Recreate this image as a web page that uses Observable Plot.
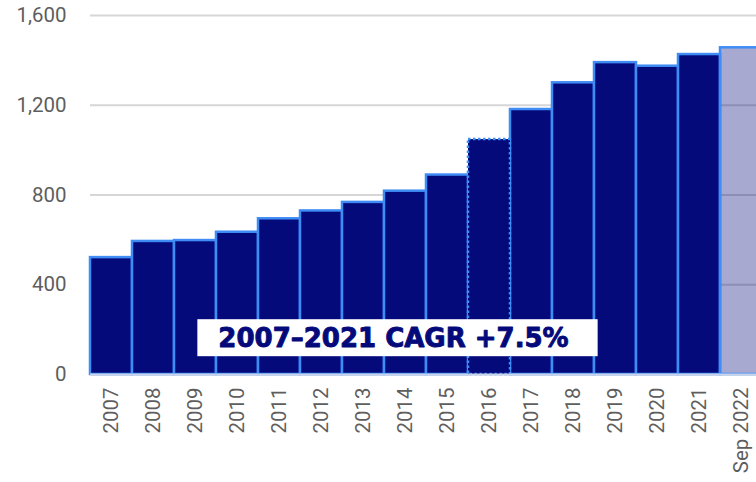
<!DOCTYPE html>
<html><head><meta charset="utf-8">
<script src="https://cdn.jsdelivr.net/npm/d3@7"></script>
<script src="https://cdn.jsdelivr.net/npm/@observablehq/plot@0.6"></script>
<style>html,body{margin:0;padding:0;background:#fff;overflow:hidden;}</style>
</head><body><div id="chart"></div>
<script>
const years = ["2007","2008","2009","2010","2011","2012","2013","2014","2015","2016","2017","2018","2019","2020","2021","Sep 2022"];
const values = [521, 593, 597, 634, 694, 729, 767, 817, 889, 1047, 1181, 1300, 1390, 1374, 1426, 1456];
const barStyle = ["solid","solid","solid","solid","solid","solid","solid","solid","solid","dotted","solid","solid","solid","solid","solid","partial"];
const yTicks = [0, 400, 800, 1200, 1600];
const annotation = {x: "2014", y: 161, label: "2007–2021 CAGR +7.5%"};

const data = years.map((year, i) => ({year, value: values[i], style: barStyle[i]}));
const navy = "#050a7b";
const edge = "#3f8cf5";

const plot = Plot.plot({
  width: 756, height: 482,
  marginTop: 15, marginBottom: 108, marginLeft: 90, marginRight: 0,
  style: {fontFamily: "Roboto", fontSize: "20px", color: "#5e5e5e", background: "white", overflow: "hidden"},
  x: {domain: years, range: [90, 762], padding: 0, label: null},
  y: {domain: [0, 1600], label: null},
  marks: [
    Plot.gridY(yTicks, {stroke: "#d6d6d6", strokeOpacity: 1, strokeWidth: 2}),
    Plot.barY(data.filter(d => d.style === "solid"), {x: "year", y: "value", fill: navy, stroke: edge, strokeWidth: 2.5}),
    Plot.barY(data.filter(d => d.style === "dotted"), {x: "year", y: "value", fill: navy, stroke: edge, strokeWidth: 2.5, strokeDasharray: "2.5,2.5"}),
    Plot.barY(data.filter(d => d.style === "partial"), {x: "year", y: "value", fill: navy, fillOpacity: 0.35, stroke: edge, strokeWidth: 2.5}),
    Plot.ruleY([0], {stroke: "#c7d4ec", strokeWidth: 2}),
    Plot.axisY(yTicks, {tickSize: 0, tickPadding: 24, tickFormat: d3.format(","), fontSize: 20.5}),
    Plot.axisX({tickSize: 0, tickPadding: 13, tickRotate: -90, fontSize: 20.5}),
    Plot.text([annotation], {x: "x", y: "y", text: "label", dx: -12, fontFamily: "DejaVu Sans", fontWeight: "bold", fontSize: 26, fill: navy, stroke: navy, strokeWidth: 0.9})
  ]
});
document.getElementById("chart").appendChild(plot);

const t = [...plot.querySelectorAll("text")].find(e => e.textContent.includes("CAGR"));
if (t) {
  const bb = t.getBBox();
  const padX = 21, padY = 3.5;
  const r = document.createElementNS("http://www.w3.org/2000/svg", "rect");
  r.setAttribute("x", bb.x - padX);
  r.setAttribute("y", bb.y - padY);
  r.setAttribute("width", bb.width + 2 * padX + 8);
  r.setAttribute("height", bb.height + 2 * padY);
  r.setAttribute("fill", "white");
  r.setAttribute("stroke", "none");
  if (t.getAttribute("transform")) r.setAttribute("transform", t.getAttribute("transform"));
  t.parentNode.insertBefore(r, t);
}
</script>
</body></html>
